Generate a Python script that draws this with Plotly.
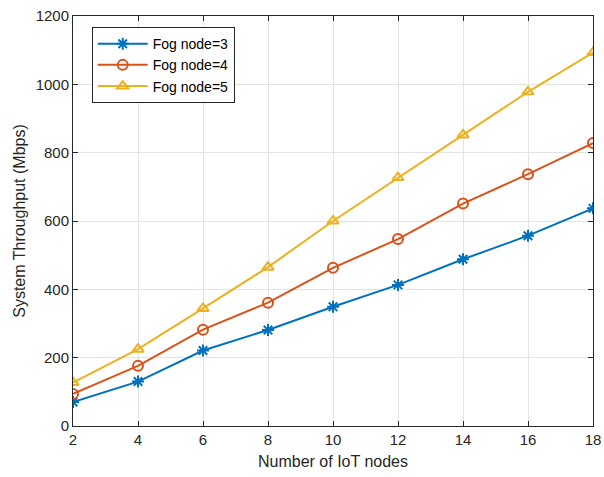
import plotly.graph_objects as go

iot_nodes = [2, 4, 6, 8, 10, 12, 14, 16, 18]
fog3 = [70, 130, 221, 281, 349, 413, 488, 557, 637]
fog4 = [94, 176, 282, 361, 463, 547, 651, 737, 828]
fog5 = [127, 225, 344, 465, 600, 727, 852, 978, 1093]
names = ["Fog node=3", "Fog node=4", "Fog node=5"]
colors = ["#0072BD", "#D95319", "#EDB120"]
symbols = ["asterisk-open", "circle-open", "triangle-up-open"]

fig = go.Figure()
for vals, name, c, s in zip([fog3, fog4, fog5], names, colors, symbols):
    fig.add_trace(go.Scatter(
        x=iot_nodes, y=vals, name=name, mode="lines+markers",
        line=dict(color=c, width=2),
        marker=dict(symbol=s, size=10, color=c, line=dict(color=c, width=2)),
    ))

axis_common = dict(
    showline=True, linecolor="#262626", linewidth=1, mirror="ticks",
    ticks="inside", ticklen=5, tickcolor="#262626",
    showgrid=True, gridcolor="#E3E3E3", gridwidth=1,
    zeroline=False, automargin=False,
    tickfont=dict(family="Liberation Sans, Arial", size=15, color="#262626"),
    title_font=dict(family="Liberation Sans, Arial", size=16, color="#262626"),
)
fig.update_xaxes(range=[2, 18], tickvals=iot_nodes, title_text="Number of IoT nodes",
                 title_standoff=8, **axis_common)
fig.update_yaxes(range=[0, 1200], tickvals=[0, 200, 400, 600, 800, 1000, 1200],
                 title_text="System Throughput (Mbps)", title_standoff=6, **axis_common)

fig.update_layout(
    width=604, height=477,
    margin=dict(l=73, r=11, t=16, b=51),
    paper_bgcolor="white", plot_bgcolor="white",
    showlegend=True,
    legend=dict(
        x=0.036, y=0.973, xanchor="left", yanchor="top",
        bgcolor="white", bordercolor="#262626", borderwidth=1,
        font=dict(family="Liberation Sans, Arial", size=14, color="black"),
        tracegroupgap=0, itemwidth=50,
    ),
)
fig.write_html("out.html")
